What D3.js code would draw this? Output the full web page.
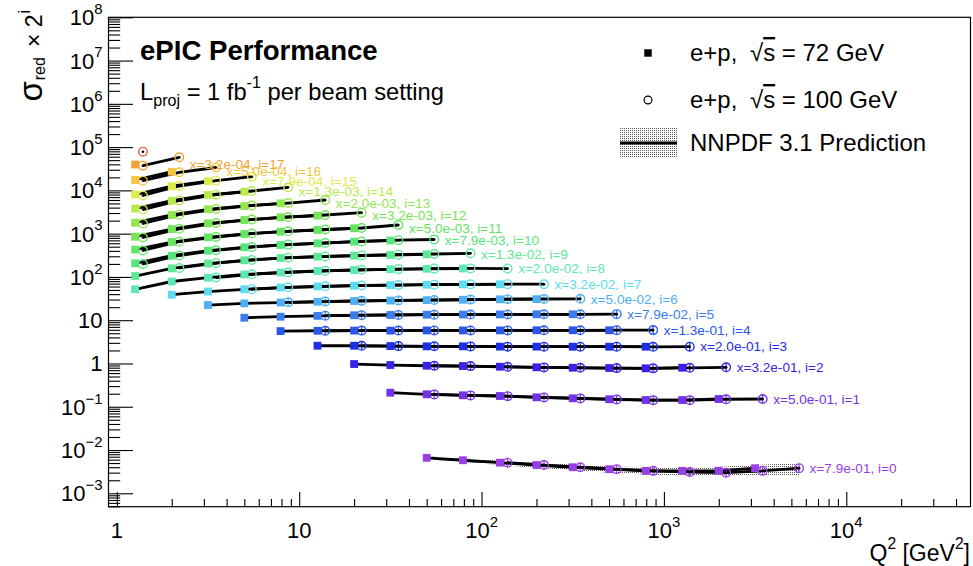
<!DOCTYPE html>
<html><head><meta charset="utf-8">
<script src="https://cdn.jsdelivr.net/npm/d3@7"></script>
<style>
body{margin:0;background:#fff;}
svg text{font-family:"Liberation Sans",Arial,Helvetica,sans-serif;}
</style></head><body>
<svg id="c" width="973" height="566"></svg>
<script>
// ---------------- data ----------------
// Q^2 bin centres (GeV^2) for the two beam settings
const q2Bins72  = [1.26, 2.0, 3.16, 5.0, 7.9, 12.6, 20, 31.6, 50, 79, 126, 200, 316, 501, 794, 1259, 1995, 3162, 5012];
const q2Bins100 = [1.39, 2.2, 3.5, 5.5, 8.7, 13.9, 22, 35, 55, 87, 139, 220, 348, 551, 873, 1386, 2195, 3480, 5513];
// x-bin labels per row index i
const xBinLabels = ["7.9e-01","5.0e-01","3.2e-01","2.0e-01","1.3e-01","7.9e-02","5.0e-02","3.2e-02","2.0e-02",
  "1.3e-02","7.9e-03","5.0e-03","3.2e-03","2.0e-03","1.3e-03","7.9e-04","5.0e-04","3.2e-04", null];
const rowColors = ["#9a3ee8","#7432e6","#3a22e6","#1c2ee8","#2a56ea","#3c7cee","#4eb0f2","#5cdcee","#5ee8b2",
  "#5ee896","#5ae47a","#64e462","#76e454","#92e64e","#b8ea4e","#dcec4c","#f4c640","#f0a233","#e8623c"];
// sqrt(s)=72 GeV (filled squares): first Q2 bin index and sigma_red x 2^i values
const sqStart = [8,7,6,5,4,3,2,1,0,0,0,0,0,0,0,0,0,0,0];
const sqValues = [
  [0.0066,0.0058,0.0051,0.0045,0.0040,0.0036,0.0033,0.0033,0.0033,0.0038],
  [0.211,0.194,0.184,0.177,0.165,0.157,0.149,0.143,0.143,0.151],
  [0.97,0.92,0.887,0.873,0.841,0.815,0.798,0.785,0.773,0.798],
  [2.57,2.57,2.53,2.49,2.49,2.45,2.45,2.44,2.44,2.44],
  [5.6,5.7,5.75,5.75,5.8,5.8,5.8,5.85,5.85,5.85],
  [11.4,12.05,12.6,13.0,13.2,13.4,13.5,13.6,13.7,13.7],
  [22.4,24.5,25.6,26.7,27.8,28.4,29.1,29.7,30.4,30.7],
  [38.8,46.0,51.8,56.9,60.1,62.7,64.7,66.1,67.1,67.5],
  [51.8,78.4,95.9,113.7,126.5,137,144.5,150,154.2,156.7],
  [105,158,204,242,273.5,293,309,321,333],
  [206.5,309,404,484,547,598,652,695],
  [430,641,824,982,1109,1214,1330],
  [851,1280,1734,2066,2388,2600],
  [1790,2700,3656,4355,5027],
  [3810,5780,7820,9310],
  [8030,12500,16300],
  [17380,27000],
  [39600],
  []
];
// sqrt(s)=100 GeV (open circles)
const ciStart = [10,8,8,6,5,5,4,3,2,1,0,0,0,0,0,0,0,0,0];
const ciValues = [
  [0.0051,0.0045,0.0040,0.0036,0.0033,0.0031,0.0030,0.0033,0.0038],
  [0.193,0.183,0.176,0.164,0.156,0.148,0.142,0.142,0.149,0.151],
  [0.885,0.870,0.838,0.812,0.795,0.782,0.772,0.795,0.815],
  [2.56,2.52,2.49,2.48,2.45,2.44,2.44,2.44,2.43,2.44],
  [5.7,5.75,5.78,5.8,5.8,5.82,5.85,5.85,5.87,5.9],
  [12.7,13.05,13.25,13.4,13.5,13.6,13.7,13.7,13.8],
  [25.9,27.0,28.0,28.7,29.3,29.9,30.6,30.9,31.2],
  [52.2,57.5,60.7,63.4,65.0,66.4,67.5,67.9,68.0],
  [96.9,114.8,127.9,138.4,146,151.7,155.6,157.4,156],
  [161,207.5,246,278,298,314,327,339,352],
  [199,313,412,492,558,608,662,706,733],
  [408,652,837,1007,1132,1247,1352,1585],
  [815,1294,1762,2123,2427,2698,3048],
  [1718,2740,3715,4477,5105,5998],
  [3610,5840,7940,9680,11780],
  [7620,12620,16750,20700],
  [16750,26180,33800],
  [37200,58200],
  [78300]
];
// rows whose open markers show a visible vertical stat. error bar
const errorBarRows = [0,1,2,3,4,5,6];
// NNPDF 3.1 uncertainty band for the i=0 row
const bandQ2 = [50,79,126,200,316,501,794,1259,1995,3162,5500];
const bandLo = [0.0061,0.0053,0.0045,0.0039,0.0034,0.0030,0.0027,0.0026,0.0025,0.0025,0.0025];
const bandHi = [0.0072,0.0064,0.0057,0.0051,0.0046,0.0042,0.0040,0.0040,0.0041,0.0045,0.0051];
// axis ticks
const xTickValues = [1,10,100,1000,10000];
const yTickValues = [1e-3,1e-2,1e-1,1,10,100,1e3,1e4,1e5,1e6,1e7,1e8];

// ---------------- drawing ----------------
const svg = d3.select("#c");
const F = {l:108.5, t:17.3, r:970.5, b:506.7};
const x = d3.scaleLog().domain([0.9, 48000]).range([F.l, F.r]);
const y = d3.scaleLog().domain([4.9e-4, 1e8]).range([F.b, F.t]);

const defs = svg.append("defs");
const pat = defs.append("pattern").attr("id","dots").attr("width",2).attr("height",2)
  .attr("patternUnits","userSpaceOnUse");
pat.append("rect").attr("width",1).attr("height",1).attr("fill","#5a5a5a");
defs.append("clipPath").attr("id","clip").append("rect")
  .attr("x",F.l).attr("y",F.t).attr("width",F.r-F.l).attr("height",F.b-F.t);

// minor tick values
const minorX = [], minorY = [];
for (let d=-1; d<=4; d++) for (let m=2; m<=9; m++) { const v=m*Math.pow(10,d); if (v>0.901 && v<48000) minorX.push(v); }
for (let d=-4; d<=7; d++) for (let m=2; m<=9; m++) { const v=m*Math.pow(10,d); if (v>4.9e-4 && v<1e8) minorY.push(v); }

function styleAxis(g){ g.select(".domain").remove(); g.selectAll("line").attr("stroke","#000").attr("stroke-width",1.1); }
svg.append("g").attr("transform",`translate(0,${F.b})`)
  .call(d3.axisBottom(x).tickValues(minorX).tickSize(-7.7).tickFormat(()=>"")).call(styleAxis);
svg.append("g").attr("transform",`translate(0,${F.b})`)
  .call(d3.axisBottom(x).tickValues(xTickValues).tickSize(-14.7).tickFormat(()=>"")).call(styleAxis);
svg.append("g").attr("transform",`translate(${F.l},0)`)
  .call(d3.axisLeft(y).tickValues(minorY).tickSize(-11.7).tickFormat(()=>"")).call(styleAxis);
svg.append("g").attr("transform",`translate(${F.l},0)`)
  .call(d3.axisLeft(y).tickValues(yTickValues).tickSize(-24.5).tickFormat(()=>"")).call(styleAxis);

function powText(sel, v){
  const e = Math.round(Math.log10(v));
  if (e===0) { sel.text("1"); return; }
  if (e===1) { sel.text("10"); return; }
  sel.append("tspan").text("10");
  sel.append("tspan").attr("font-size","68%").attr("dy","-0.75em").text(e<0 ? "\u2212"+(-e) : String(e));
}
svg.append("g").selectAll("text").data(xTickValues).join("text")
  .attr("x",d=>x(d)).attr("y",538).attr("text-anchor","middle").attr("font-size",22)
  .each(function(d){ powText(d3.select(this), d); });
svg.append("g").selectAll("text").data(yTickValues).join("text")
  .attr("x",F.l-6).attr("y",d=>y(d)+8).attr("text-anchor","end").attr("font-size",22)
  .each(function(d){ powText(d3.select(this), d); });

// axis titles
const xt = svg.append("text").attr("x",970).attr("y",561).attr("text-anchor","end").attr("font-size",23);
xt.append("tspan").text("Q");
xt.append("tspan").attr("font-size","68%").attr("dy","-0.75em").text("2");
xt.append("tspan").attr("dy","0.51em").text(" [GeV");
xt.append("tspan").attr("font-size","68%").attr("dy","-0.75em").text("2");
xt.append("tspan").attr("dy","0.51em").text("]");

const yt = svg.append("text").attr("transform","translate(42,10) rotate(-90)").attr("text-anchor","end").attr("font-size",23);
yt.append("tspan").attr("font-size",33).text("\u03c3");
yt.append("tspan").attr("font-size",16).attr("dy","3").attr("dx","1").text("red");
yt.append("tspan").attr("dy","-3").attr("dx","10").text("\u00d7 2");
yt.append("tspan").attr("font-size","68%").attr("dy","-0.75em").attr("dx","1").text("i");

// plot content
const plot = svg.append("g").attr("clip-path","url(#clip)");
const band = bandQ2.map((q,k)=>({q2:q, lo:bandLo[k], hi:bandHi[k]}));
plot.append("path").datum(band)
  .attr("d", d3.area().x(d=>x(d.q2)).y0(d=>y(d.lo)).y1(d=>y(d.hi)))
  .attr("fill","url(#dots)").attr("stroke","none");

const rows = rowColors.map((c,i)=>({
  i, color:c, label:xBinLabels[i],
  sq: sqValues[i].map((v,k)=>({q2:q2Bins72[sqStart[i]+k], v})),
  ci: ciValues[i].map((v,k)=>({q2:q2Bins100[ciStart[i]+k], v}))
}));
const line = d3.line().x(d=>x(d.q2)).y(d=>y(d.v));
rows.forEach(r=>{
  [r.sq, r.ci].forEach(pts=>{
    if (pts.length>1) plot.append("path").datum(pts).attr("d",line)
      .attr("fill","none").attr("stroke","#000").attr("stroke-width",2.8);
  });
});
rows.forEach(r=>{
  plot.append("g").selectAll("rect").data(r.sq).join("rect")
    .attr("x",d=>x(d.q2)-3.9).attr("y",d=>y(d.v)-3.9).attr("width",7.8).attr("height",7.8)
    .attr("fill",r.color);
  const cg = plot.append("g");
  cg.selectAll("circle").data(r.ci).join("circle")
    .attr("cx",d=>x(d.q2)).attr("cy",d=>y(d.v)).attr("r",4.3)
    .attr("fill","none").attr("stroke",r.color).attr("stroke-width",1.4);
  if (errorBarRows.includes(r.i)) {
    cg.selectAll("line").data(r.ci).join("line")
      .attr("x1",d=>x(d.q2)).attr("x2",d=>x(d.q2)).attr("y1",d=>y(d.v)-4.3).attr("y2",d=>y(d.v)+4.3)
      .attr("stroke",r.color).attr("stroke-width",1.2);
  }
  cg.selectAll("circle.dot").data(r.ci).join("circle").attr("class","dot")
    .attr("cx",d=>x(d.q2)).attr("cy",d=>y(d.v)).attr("r",1.3).attr("fill","#000");
});
// row labels
svg.append("g").selectAll("text").data(rows.filter(r=>r.label && r.sq.length))
  .join("text")
  .attr("x",r=>x(r.ci[r.ci.length-1].q2)+10.5)
  .attr("y",r=>y(r.sq[r.sq.length-1].v)+4.7)
  .attr("font-size",13.6).attr("fill",r=>r.color)
  .text(r=>`x=${r.label}, i=${r.i}`);

// frame
svg.append("rect").attr("x",F.l).attr("y",F.t).attr("width",F.r-F.l).attr("height",F.b-F.t)
  .attr("fill","none").attr("stroke","#000").attr("stroke-width",1.2);

// headline texts
svg.append("text").attr("x",140).attr("y",60).attr("font-size",27.6).attr("font-weight","bold").text("ePIC Performance");
const lt = svg.append("text").attr("x",140).attr("y",100).attr("font-size",23.7);
lt.append("tspan").text("L");
lt.append("tspan").attr("font-size","68%").attr("dy","0.35em").text("proj");
lt.append("tspan").attr("dy","-0.24em").text(" = 1 fb");
lt.append("tspan").attr("font-size","68%").attr("dy","-0.75em").text("-1");
lt.append("tspan").attr("dy","0.51em").text(" per beam setting");

// legend
const lg = svg.append("g");
lg.append("rect").attr("x",644.3).attr("y",49.3).attr("width",7.4).attr("height",7.4).attr("fill","#000");
lg.append("circle").attr("cx",648).attr("cy",100).attr("r",3.9).attr("fill","none").attr("stroke","#000").attr("stroke-width",1.2);
lg.append("rect").attr("x",620).attr("y",128).attr("width",57).attr("height",30).attr("fill","url(#dots)");
lg.append("line").attr("x1",620).attr("x2",677).attr("y1",143).attr("y2",143).attr("stroke","#000").attr("stroke-width",3);
const legTexts = [{y:61, e:"72"},{y:108, e:"100"}];
legTexts.forEach(t=>{
  lg.append("text").attr("x",690).attr("y",t.y).attr("font-size",24).text("e+p,");
  const tt = lg.append("text").attr("x",750).attr("y",t.y).attr("font-size",24);
  tt.append("tspan").text("\u221a");
  tt.append("tspan").attr("style","text-decoration:overline").text("s");
  tt.append("tspan").text(` = ${t.e} GeV`);
});
lg.append("text").attr("x",690).attr("y",151).attr("font-size",24).text("NNPDF 3.1 Prediction");
</script>
</body></html>
